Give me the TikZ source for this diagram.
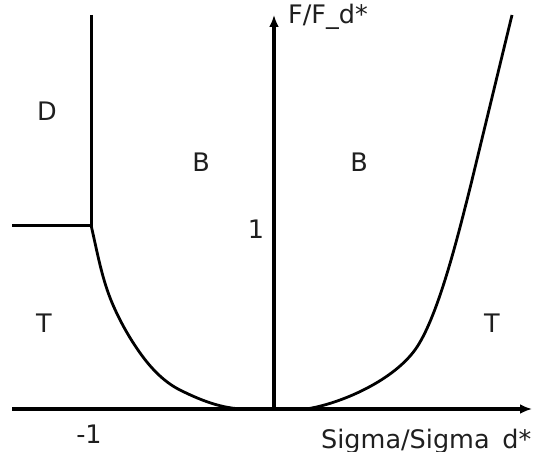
\documentclass[tikz,border=0pt]{standalone}
\usepackage{fontspec}
\setmainfont{DejaVu Sans}
\usetikzlibrary{arrows.meta}
\begin{document}
\begin{tikzpicture}[x=1pt,y=-1pt,
  lbl/.style={font=\fontsize{25.5}{30}\selectfont, inner sep=0pt, text=black!88},
  axisline/.style={line width=3.2pt, -{Latex[length=12pt,width=10pt]}},
  bound/.style={line width=3pt},
  curve/.style={line width=2.8pt, line join=round}]
\useasboundingbox[fill=white] (0,0) rectangle (533,452);
% axes
\coordinate (xl) at (12,409);
\coordinate (xr) at (532,409);
\coordinate (o) at (274,409);
\coordinate (yt) at (274,15);
\draw[axisline] (xl) -- (xr);
\draw[axisline] (o) -- (yt);
% boundary D / T / B
\coordinate (vt) at (91,15);
\coordinate (corner) at (91,225);
\coordinate (hl) at (12,225);
\draw[bound] (vt) -- (corner) -- (hl);
% left curve
\coordinate (l1) at (113,305);
\coordinate (l2) at (143,357);
\coordinate (l3) at (180,390);
\coordinate (l4) at (245,409);
\draw[curve] (corner) .. controls (97.3,252) and (101.9,279.6) .. (l1)
  .. controls (121,323.3) and (131.1,341) .. (l2)
  .. controls (152.9,370.2) and (165.2,382.6) .. (l3)
  .. controls (200.2,400.1) and (222.4,409) .. (l4);
% right curve
\coordinate (r0) at (306,409);
\coordinate (r1) at (417,347);
\coordinate (r2) at (472,180);
\coordinate (r3) at (512,15);
\draw[curve] (r0) .. controls (340,404) and (395,380.4) .. (r1)
  .. controls (439,313.6) and (458.7,233.4) .. (r2) -- (r3);
% labels
\node[lbl, anchor=base] (D) at (47,121) {D};
\node[lbl, anchor=base] (B1) at (201,171) {B};
\node[lbl, anchor=base] (B2) at (359,171) {B};
\node[lbl, anchor=base] (one) at (256,238) {1};
\node[lbl, anchor=base] (T1) at (44,332) {T};
\node[lbl, anchor=base] (T2) at (492,332) {T};
\node[lbl, anchor=base] (m1) at (89,443) {-1};
\node[lbl, anchor=base west] (ylab) at (288,24) {F/F\_d*};
\node[lbl, anchor=base west] (xlab) at (321,448) {Sigma/Sigma\_d*};
\end{tikzpicture}
\end{document}
